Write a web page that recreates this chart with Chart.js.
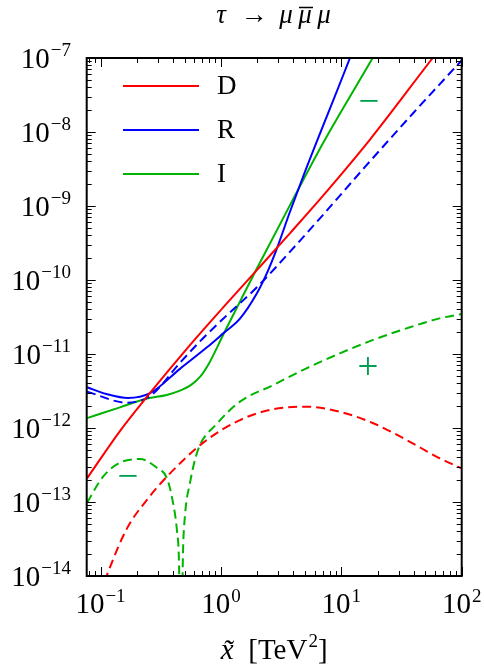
<!DOCTYPE html>
<html>
<head>
<meta charset="utf-8">
<script src="https://cdn.jsdelivr.net/npm/chart.js@4"></script>
<style>
  html, body { margin: 0; padding: 0; background: #fff; }
  #wrap { width: 484px; height: 667px; }
</style>
</head>
<body>
<div id="wrap"><canvas id="chart" width="484" height="667"></canvas></div>
<script>
// Axis ranges
const xMin = 0.0768, xMax = 100;
const yMin = 1e-14, yMax = 1e-7;

// D (red), solid and dashed
const dSolidX = [0.0773, 0.145, 0.248, 0.553, 1.045, 1.98, 3.74, 7.06, 17.3, 57.4, 100];
const dSolidY = [2.09e-13, 9.1e-13, 2.75e-12, 1.32e-11, 4.27e-11, 1.35e-10, 4.27e-10, 1.38e-9, 7.9e-9, 1.0e-7, 3.16e-7];
const dDashX = [0.1, 0.115, 0.166, 0.243, 0.356, 0.71, 1.44, 2.72, 5.14, 9.72, 18.4, 34.8, 65.6, 100];
const dDashY = [5.6e-15, 1.1e-14, 4.4e-14, 1.07e-13, 2.2e-13, 6.3e-13, 1.28e-12, 1.79e-12, 1.94e-12, 1.66e-12, 1.16e-12, 6.9e-13, 3.9e-13, 2.85e-13];

// R (blue), solid and dashed
const rSolidX = [0.0773, 0.112, 0.169, 0.258, 0.457, 0.766, 1.045, 1.44, 1.98, 2.39, 2.9, 3.74, 4.82, 11.8, 15.8];
const rSolidY = [3.55e-12, 2.88e-12, 2.54e-12, 2.95e-12, 6.3e-12, 1.23e-11, 1.9e-11, 3.0e-11, 6.5e-11, 1.2e-10, 2.6e-10, 8.3e-10, 2.5e-9, 1.0e-7, 3.5e-7];
const rDashX = [0.0773, 0.166, 0.258, 0.457, 0.67, 1.045, 1.98, 3.74, 7.06, 15.8, 39.8, 100];
const rDashY = [3.1e-12, 2.2e-12, 2.7e-12, 7.6e-12, 1.48e-11, 3.0e-11, 7.9e-11, 2.4e-10, 7.6e-10, 3.4e-9, 1.82e-8, 9.3e-8];

// I (green), solid and dashed (dashed = |I| below the sign change)
const iSolidX = [0.0773, 0.145, 0.243, 0.355, 0.457, 0.562, 0.67, 0.794, 1.045, 1.44, 1.98, 3.74, 7.06, 18.2, 25.1];
const iSolidY = [1.36e-12, 1.9e-12, 2.5e-12, 2.8e-12, 3.2e-12, 3.8e-12, 4.9e-12, 7.4e-12, 1.82e-11, 5.1e-11, 1.41e-10, 1.02e-9, 7.1e-9, 1.0e-7, 2.5e-7];
const iDashX = [0.0773, 0.105, 0.145, 0.213, 0.294, 0.356, 0.4, 0.431, 0.448, 0.462, 0.470, 0.484, 0.502, 0.553, 0.644, 0.93, 1.44, 2.72, 5.14, 9.72, 18.4, 34.8, 65.6, 100];
const iDashY = [9.8e-14, 2.2e-13, 3.4e-13, 3.8e-13, 2.9e-13, 2.1e-13, 9.8e-14, 4.2e-14, 1.66e-14, 1e-15, 1e-15, 2.0e-14, 6.3e-14, 1.8e-13, 5.0e-13, 1.15e-12, 2.27e-12, 3.81e-12, 6.41e-12, 1.02e-11, 1.55e-11, 2.22e-11, 3.03e-11, 3.47e-11];

// Legend and tick labels
const legendLabels = ['D', 'R', 'I'];
const legendColors = ['#ff0000', '#0000ff', '#00b400'];
const xTickValues = [0.1, 1, 10, 100];
const xTickExps = ['\u22121', '0', '1', '2'];
const yTickValues = [1e-14, 1e-13, 1e-12, 1e-11, 1e-10, 1e-9, 1e-8, 1e-7];
const yTickExps = ['\u221214', '\u221213', '\u221212', '\u221211', '\u221210', '\u22129', '\u22128', '\u22127'];

const SERIF = '"Liberation Serif", "DejaVu Serif", serif';
const signColor = '#00a050';

function toPoints(xs, ys) {
    return xs.map((x, i) => ({ x: x, y: ys[i] }));
}

function lineSet(xs, ys, color, dashed) {
    return {
        data: toPoints(xs, ys),
        borderColor: color,
        borderWidth: 2,
        borderDash: dashed ? [9, 5] : [],
        pointRadius: 0,
        fill: false,
        cubicInterpolationMode: 'monotone'
    };
}

// draws "10" with a raised exponent
function drawPower(ctx, exp, x, baseY, align, size, raise) {
    ctx.font = size + 'px ' + SERIF;
    const w1 = ctx.measureText('10').width;
    ctx.font = Math.round(size * 0.64) + 'px ' + SERIF;
    const w2 = ctx.measureText(exp).width;
    const total = w1 + 1 + w2;
    let left = align === 'right' ? x - total : x - total / 2;
    ctx.textAlign = 'left';
    ctx.font = size + 'px ' + SERIF;
    ctx.fillText('10', left, baseY);
    ctx.font = Math.round(size * 0.64) + 'px ' + SERIF;
    ctx.fillText(exp, left + w1 + 1, baseY - raise);
}

const framePlugin = {
    id: 'frame',
    afterDraw(chart) {
        const ctx = chart.ctx;
        const area = chart.chartArea;
        const xs = chart.scales.x, ys = chart.scales.y;
        ctx.save();
        ctx.strokeStyle = '#000';
        ctx.lineWidth = 1;

        // tick marks on all four sides, pointing inward
        ctx.beginPath();
        for (let e = -2; e <= 2; e++) {
            for (let m = 1; m <= 9; m++) {
                const v = m * Math.pow(10, e);
                if (v < xMin || v > xMax * 1.0001) continue;
                const px = Math.round(xs.getPixelForValue(v)) + 0.5;
                const len = m === 1 ? 9 : 5;
                ctx.moveTo(px, area.bottom); ctx.lineTo(px, area.bottom - len);
                ctx.moveTo(px, area.top); ctx.lineTo(px, area.top + len);
            }
        }
        for (let e = -14; e <= -7; e++) {
            for (let m = 1; m <= 9; m++) {
                const v = m * Math.pow(10, e);
                if (v < yMin * 0.9999 || v > yMax * 1.0001) continue;
                const py = Math.round(ys.getPixelForValue(v)) + 0.5;
                const len = m === 1 ? 9 : 5;
                ctx.moveTo(area.left, py); ctx.lineTo(area.left + len, py);
                ctx.moveTo(area.right, py); ctx.lineTo(area.right - len, py);
            }
        }
        ctx.stroke();

        // frame
        ctx.lineWidth = 2;
        ctx.strokeRect(area.left, area.top, area.right - area.left, area.bottom - area.top);

        // tick labels
        ctx.fillStyle = '#000';
        ctx.textBaseline = 'alphabetic';
        yTickValues.forEach((v, i) => {
            const py = ys.getPixelForValue(v);
            drawPower(ctx, yTickExps[i], 71, py + 9.5, 'right', 29, 12);
        });
        xTickValues.forEach((v, i) => {
            const px = xs.getPixelForValue(v);
            drawPower(ctx, xTickExps[i], px, area.bottom + 37, 'center', 29, 11);
        });

        // axis title: x~ [TeV^2]
        ctx.font = 'italic 29px ' + SERIF;
        const tx = 'x\u0303';
        const wx = ctx.measureText(tx).width;
        ctx.font = '29px ' + SERIF;
        const wA = ctx.measureText('  [TeV').width;
        ctx.font = '19px ' + SERIF;
        const w2 = ctx.measureText('2').width;
        ctx.font = '29px ' + SERIF;
        const wB = ctx.measureText(']').width;
        let cx = (area.left + area.right) / 2 - (wx + wA + w2 + wB + 1) / 2;
        const by = 659;
        ctx.textAlign = 'left';
        ctx.font = 'italic 29px ' + SERIF;
        ctx.fillText(tx, cx, by); cx += wx;
        ctx.font = '29px ' + SERIF;
        ctx.fillText('  [TeV', cx, by); cx += wA + 1;
        ctx.font = '19px ' + SERIF;
        ctx.fillText('2', cx, by - 12); cx += w2;
        ctx.font = '29px ' + SERIF;
        ctx.fillText(']', cx, by);

        // title: tau -> mu mubar mu
        ctx.textAlign = 'center';
        ctx.font = 'italic 27px ' + SERIF;
        ctx.fillText('\u03c4', 221, 23);
        ctx.font = '27px ' + SERIF;
        ctx.fillText('\u2192', 254, 23);
        ctx.font = 'italic 27px ' + SERIF;
        ctx.fillText('\u03bc', 286, 23);
        ctx.fillText('\u03bc', 305, 23);
        ctx.fillText('\u03bc', 324, 23);
        ctx.lineWidth = 1.5;
        ctx.beginPath();
        ctx.moveTo(299, 7.5); ctx.lineTo(313, 7.5);
        ctx.stroke();

        // legend
        legendLabels.forEach((label, i) => {
            const ly = 86 + i * 44;
            ctx.strokeStyle = legendColors[i];
            ctx.lineWidth = 2;
            ctx.beginPath();
            ctx.moveTo(123, ly); ctx.lineTo(199, ly);
            ctx.stroke();
            ctx.fillStyle = '#000';
            ctx.textAlign = 'left';
            ctx.font = '27px ' + SERIF;
            ctx.fillText(label, 217, ly + 8);
        });

        // sign markers for the interference term
        ctx.fillStyle = signColor;
        ctx.textAlign = 'center';
        ctx.font = '37px ' + SERIF;
        ctx.fillText('\u2212', 128, 478 + 9.5);
        ctx.fillText('\u2212', 369, 103 + 9.5);
        ctx.fillText('+', 368, 369 + 9.5);

        ctx.restore();
    }
};

function main() {
    const datasets = [
        lineSet(dSolidX, dSolidY, '#ff0000', false),
        lineSet(dDashX, dDashY, '#ff0000', true),
        lineSet(rSolidX, rSolidY, '#0000ff', false),
        lineSet(rDashX, rDashY, '#0000ff', true),
        lineSet(iSolidX, iSolidY, '#00b400', false),
        lineSet(iDashX, iDashY, '#00b400', true)
    ];

    new Chart(document.getElementById('chart'), {
        type: 'line',
        data: { datasets: datasets },
        options: {
            responsive: false,
            animation: false,
            layout: { padding: { top: 58, right: 22.3, left: 0, bottom: 0 } },
            plugins: { legend: { display: false }, tooltip: { enabled: false }, title: { display: false } },
            scales: {
                x: {
                    type: 'logarithmic', min: xMin, max: xMax,
                    ticks: { display: false }, grid: { display: false }, border: { display: false },
                    afterFit: s => { s.height = 91; }
                },
                y: {
                    type: 'logarithmic', min: yMin, max: yMax,
                    ticks: { display: false }, grid: { display: false }, border: { display: false },
                    afterFit: s => { s.width = 86.7; }
                }
            }
        },
        plugins: [framePlugin]
    });
}

main();
</script>
</body>
</html>
